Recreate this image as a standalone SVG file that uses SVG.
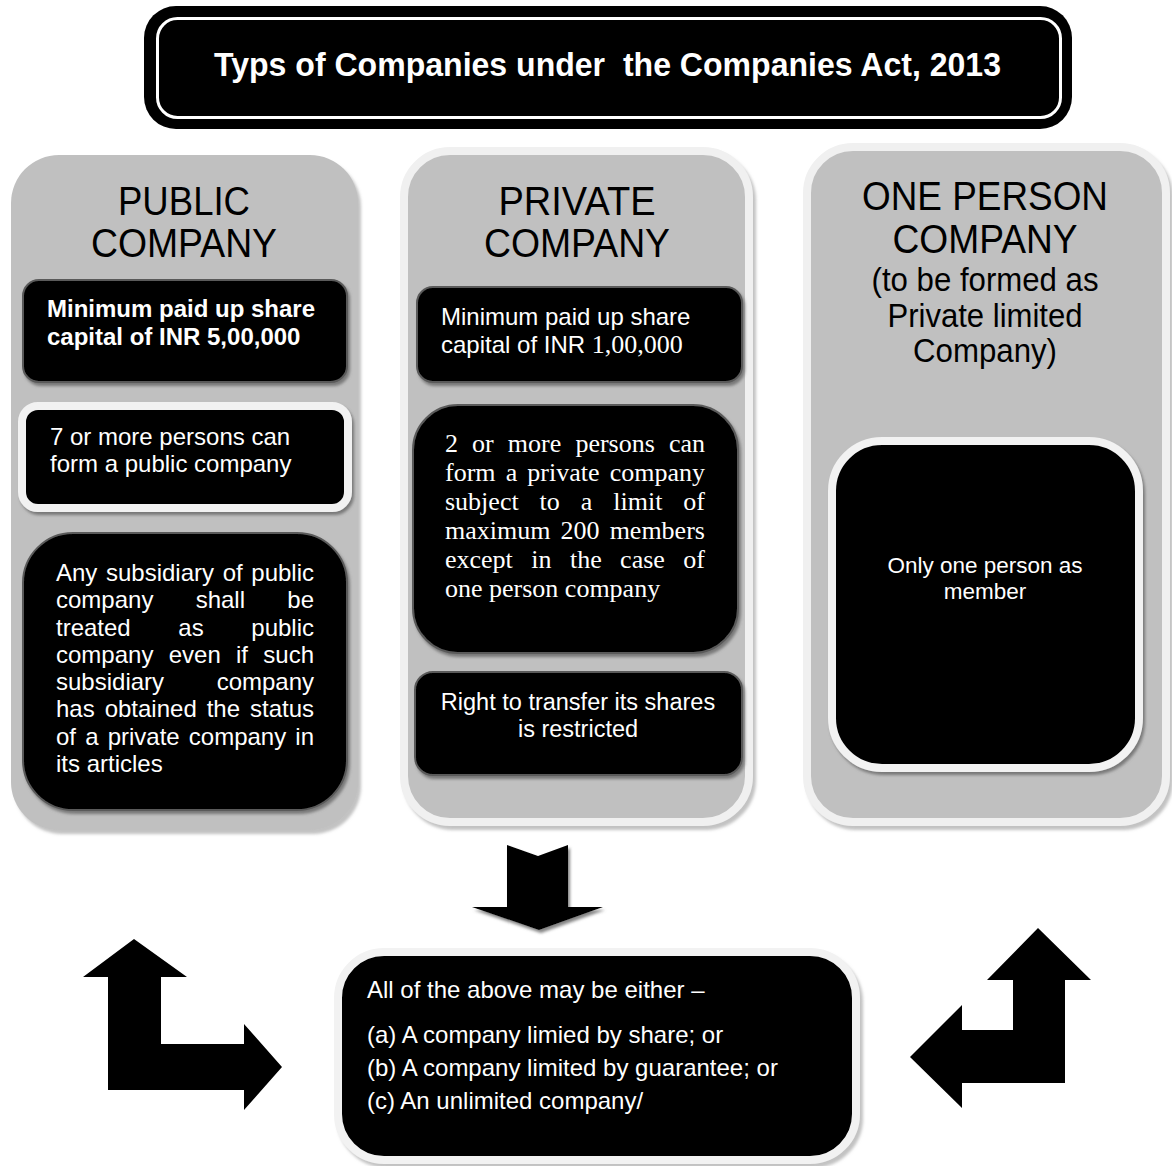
<svg xmlns="http://www.w3.org/2000/svg" width="1172" height="1166" viewBox="0 0 1172 1166">
<style>
.sans{font-family:"Liberation Sans",Arial,sans-serif}
.serif{font-family:"Liberation Serif","Times New Roman",serif}
.w{fill:#fff}
.k{fill:#000}
.head{font-size:40px;fill:#000;text-anchor:middle}
.body{font-size:24px}
.panel{fill:#c0c0c0}
.box{fill:#000;stroke:#5a5a5a;stroke-width:2}
.wbox{fill:#000;stroke:#f2f2f2;stroke-width:8}
</style>
<defs>
<filter id="sh" x="-10%" y="-10%" width="125%" height="125%">
<feDropShadow dx="2" dy="3" stdDeviation="1.5" flood-color="#666" flood-opacity="0.8"/>
</filter>
<filter id="psh" x="-10%" y="-10%" width="125%" height="125%">
<feDropShadow dx="3" dy="4" stdDeviation="1.5" flood-color="#999" flood-opacity="0.6"/>
</filter>
</defs>

<g id="title">
<rect x="144" y="6" width="928" height="123" rx="32" fill="#000"/>
<rect x="157.5" y="18.5" width="903" height="99" rx="20" fill="none" stroke="#fff" stroke-width="3"/>
<text class="sans w" x="214" y="76" font-size="34" font-weight="bold" textLength="787" lengthAdjust="spacingAndGlyphs" xml:space="preserve">Typs of Companies under  the Companies Act, 2013</text>
</g>

<g id="public">
<rect class="panel" x="11" y="155" width="347" height="675" rx="48" filter="url(#psh)"/>
<text class="sans head" x="184" y="215" textLength="132" lengthAdjust="spacingAndGlyphs">PUBLIC</text>
<text class="sans head" x="184" y="257" textLength="186" lengthAdjust="spacingAndGlyphs">COMPANY</text>
<g id="pub-capital">
<rect class="box" x="23" y="280" width="324" height="102" rx="16" filter="url(#sh)"/>
<text class="sans w body" font-weight="bold" x="47" y="317">Minimum paid up share</text>
<text class="sans w body" font-weight="bold" x="47" y="345">capital of INR 5,00,000</text>
</g>
<g id="pub-persons">
<rect class="wbox" x="22" y="406" width="326" height="102" rx="16" filter="url(#sh)"/>
<text class="sans w body" x="50" y="445">7 or more persons can</text>
<text class="sans w body" x="50" y="472">form a public company</text>
</g>
<g id="pub-subsidiary">
<rect class="box" x="23" y="533" width="324" height="277" rx="50" filter="url(#sh)"/>
<g class="sans w body">
<text x="56" y="581" word-spacing="1.97">Any subsidiary of public</text>
<text x="56" y="608" word-spacing="35.6">company shall be</text>
<text x="56" y="636" word-spacing="40.96">treated as public</text>
<text x="56" y="663" word-spacing="8.63">company even if such</text>
<text x="56" y="690" word-spacing="45.94">subsidiary company</text>
<text x="56" y="717" word-spacing="3.28">has obtained the status</text>
<text x="56" y="745" word-spacing="2.47">of a private company in</text>
<text x="56" y="772">its articles</text>
</g>
</g>
</g>

<g id="private">
<rect class="panel" x="404" y="151" width="345" height="671" rx="46" stroke="#f0f0f0" stroke-width="8" filter="url(#psh)"/>
<text class="sans head" x="577" y="215" textLength="157" lengthAdjust="spacingAndGlyphs">PRIVATE</text>
<text class="sans head" x="577" y="257" textLength="186" lengthAdjust="spacingAndGlyphs">COMPANY</text>
<g id="pri-capital">
<rect class="box" x="417" y="287" width="325" height="95" rx="16" filter="url(#sh)"/>
<text class="sans w body" x="441" y="325">Minimum paid up share</text>
<text class="sans w body" x="441" y="353">capital of INR <tspan class="serif" font-size="26">1,00,000</tspan></text>
</g>
<g id="pri-persons">
<rect class="box" x="413" y="405" width="325" height="248" rx="45" filter="url(#sh)"/>
<g class="serif w" font-size="26">
<text x="445" y="452" word-spacing="7.6">2 or more persons can</text>
<text x="445" y="481" word-spacing="3.63">form a private company</text>
<text x="445" y="510" word-spacing="14.45">subject to a limit of</text>
<text x="445" y="539" word-spacing="3.6">maximum 200 members</text>
<text x="445" y="568" word-spacing="11.93">except in the case of</text>
<text x="445" y="597">one person company</text>
</g>
</g>
<g id="pri-transfer">
<rect class="box" x="415" y="672" width="327" height="103" rx="18" stroke="none" filter="url(#sh)"/>
<text class="sans w" font-size="23.5" x="578" y="710" text-anchor="middle">Right to transfer its shares</text>
<text class="sans w" font-size="23.5" x="578" y="737" text-anchor="middle">is restricted</text>
</g>
</g>

<g id="one-person">
<rect class="panel" x="807" y="147" width="359" height="675" rx="46" stroke="#f0f0f0" stroke-width="8" filter="url(#psh)"/>
<text class="sans head" x="985" y="210" textLength="246" lengthAdjust="spacingAndGlyphs">ONE PERSON</text>
<text class="sans head" x="985" y="253" textLength="185" lengthAdjust="spacingAndGlyphs">COMPANY</text>
<text class="sans" x="985" y="291" font-size="33" text-anchor="middle" textLength="227" lengthAdjust="spacingAndGlyphs">(to be formed as</text>
<text class="sans" x="985" y="327" font-size="33" text-anchor="middle" textLength="195" lengthAdjust="spacingAndGlyphs">Private limited</text>
<text class="sans" x="985" y="362" font-size="33" text-anchor="middle" textLength="144" lengthAdjust="spacingAndGlyphs">Company)</text>
<g id="opc-member">
<rect class="wbox" x="832" y="441" width="307" height="327" rx="50" filter="url(#sh)"/>
<text class="sans w" x="985" y="573" font-size="22.5" text-anchor="middle">Only one person as</text>
<text class="sans w" x="985" y="599" font-size="22.5" text-anchor="middle">member</text>
</g>
</g>

<g id="summary">
<rect class="wbox" x="338" y="952" width="518" height="208" rx="46" filter="url(#psh)"/>
<g class="sans w" font-size="24">
<text x="367" y="998">All of the above may be either –</text>
<text x="367" y="1043">(a) A company limied by share; or</text>
<text x="367" y="1076">(b) A company limited by guarantee; or</text>
<text x="367" y="1109">(c) An unlimited company/</text>
</g>
</g>

<g id="connectors">
<polygon points="507,845 538,856 568,845 568,907 603,907 539,930 472,907 507,907" fill="#000" filter="url(#sh)"/>
<polygon points="134,939 187,977 161,977 161,1044 244,1044 244,1024 282,1067 244,1110 244,1090 108,1090 108,977 83,977" fill="#000"/>
<polygon points="1038,928 1091,980 1065,980 1065,1083 962,1083 962,1108 910,1057 962,1005 962,1030 1013,1030 1013,980 987,980" fill="#000"/>
</g>
</svg>
